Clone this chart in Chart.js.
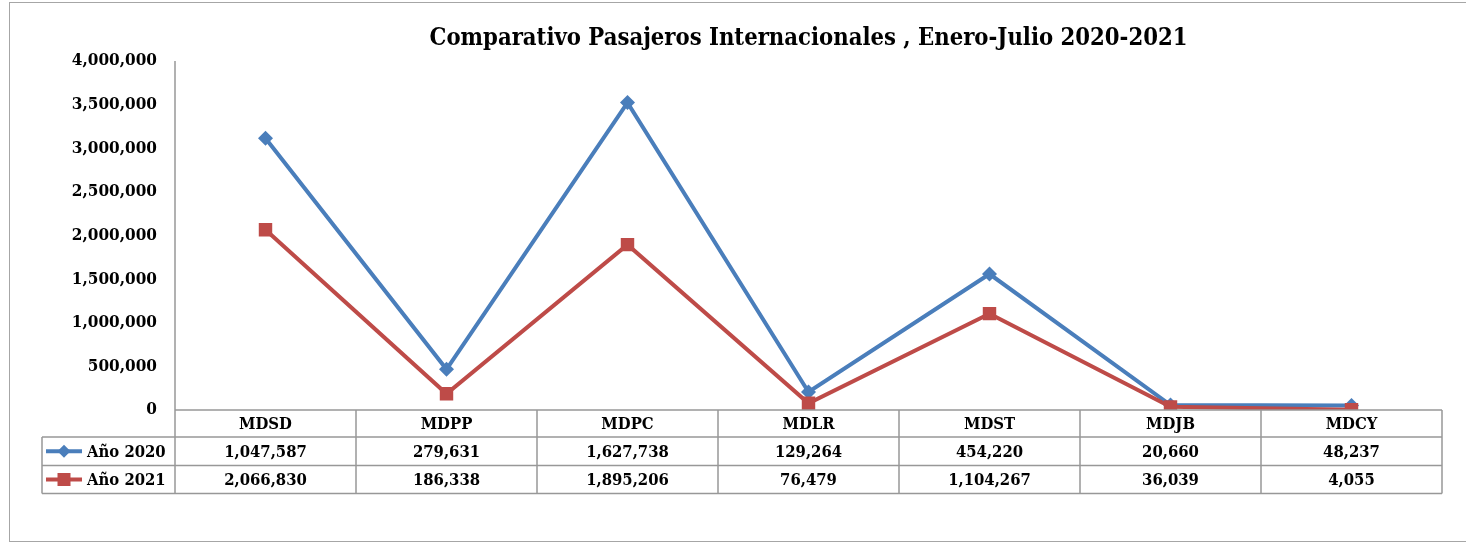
<!DOCTYPE html>
<html>
<head>
<meta charset="utf-8">
<script src="https://cdn.jsdelivr.net/npm/chart.js@4/dist/chart.umd.min.js"></script>
<style>
  html, body { margin: 0; padding: 0; background: #fff; }
  #wrap { width: 1466px; height: 543px; }
</style>
</head>
<body>
<div id="wrap"><canvas id="chart" width="1466" height="543"></canvas></div>
<script>
// datos de la tabla
const airports = ["MDSD", "MDPP", "MDPC", "MDLR", "MDST", "MDJB", "MDCY"]
const seriesNames = ["Año 2020", "Año 2021"]
const pax2020 = [1047587, 279631, 1627738, 129264, 454220, 20660, 48237]
const pax2021 = [2066830, 186338, 1895206, 76479, 1104267, 36039, 4055]
const yTicks = [0, 500000, 1000000, 1500000, 2000000, 2500000, 3000000, 3500000, 4000000]
const chartTitle = "Comparativo Pasajeros Internacionales , Enero-Julio 2020-2021"

const BLUE = "#4a7ebb"
const RED = "#be4b48"
const GRID = "#989898"
const FONT = "'DejaVu Serif Condensed', 'DejaVu Serif', serif"

const fmt = v => v.toLocaleString("en-US")

// la tabla de datos abajo del grafico, como en Excel
const tablePlugin = {
    id: "dataTable",
    beforeDraw(chart){
        const ctx = chart.ctx
        ctx.save()
        ctx.fillStyle = "#fff"
        ctx.fillRect(0, 0, chart.width, chart.height)
        ctx.strokeStyle = "#a6a6a6"
        ctx.lineWidth = 1
        ctx.strokeRect(9.5, 2.5, chart.width, 539)
        ctx.fillStyle = "#000"
        ctx.font = `bold 23.6px ${FONT}`
        ctx.textAlign = "center"
        ctx.textBaseline = "middle"
        const area = chart.chartArea
        ctx.fillText(chartTitle, (area.left + area.right) / 2, 39)
        ctx.restore()
    },
    afterDraw(chart){
        const ctx = chart.ctx
        const x = chart.scales.x
        const area = chart.chartArea
        const rows = [area.bottom, 437, 465.5, 493.5]
        const legendLeft = 42
        const half = (x.getPixelForValue(1) - x.getPixelForValue(0)) / 2
        ctx.save()
        ctx.strokeStyle = GRID
        ctx.lineWidth = 1.5
        // lineas horizontales
        ctx.beginPath()
        ctx.moveTo(area.left, rows[0]); ctx.lineTo(area.right, rows[0])
        for(let r = 1; r < rows.length; r++){
            ctx.moveTo(legendLeft, rows[r]); ctx.lineTo(area.right, rows[r])
        }
        // lineas verticales
        ctx.moveTo(legendLeft, rows[1]); ctx.lineTo(legendLeft, rows[3])
        ctx.moveTo(area.left, area.top); ctx.lineTo(area.left, rows[3])
        for(let i = 0; i < airports.length; i++){
            const right = x.getPixelForValue(i) + half
            ctx.moveTo(right, rows[0]); ctx.lineTo(right, rows[3])
        }
        ctx.stroke()

        ctx.fillStyle = "#000"
        ctx.font = `bold 16.5px ${FONT}`
        ctx.textAlign = "center"
        ctx.textBaseline = "middle"
        const series = [pax2020, pax2021]
        for(let i = 0; i < airports.length; i++){
            const cx = x.getPixelForValue(i)
            ctx.fillText(airports[i], cx, (rows[0] + rows[1]) / 2 + 1)
            for(let s = 0; s < series.length; s++){
                ctx.fillText(fmt(series[s][i]), cx, (rows[s + 1] + rows[s + 2]) / 2 + 1)
            }
        }
        // claves de leyenda
        const colors = [BLUE, RED]
        const shapes = ["diamond", "square"]
        for(let s = 0; s < seriesNames.length; s++){
            const cy = (rows[s + 1] + rows[s + 2]) / 2
            ctx.strokeStyle = colors[s]
            ctx.fillStyle = colors[s]
            ctx.lineWidth = 4
            ctx.beginPath()
            ctx.moveTo(46, cy); ctx.lineTo(82, cy)
            ctx.stroke()
            ctx.beginPath()
            if(shapes[s] == "diamond"){
                ctx.moveTo(64, cy - 6.5); ctx.lineTo(70.5, cy); ctx.lineTo(64, cy + 6.5); ctx.lineTo(57.5, cy)
                ctx.closePath()
            } else {
                ctx.rect(57.5, cy - 6.5, 13, 13)
            }
            ctx.fill()
            ctx.fillStyle = "#000"
            ctx.textAlign = "left"
            ctx.fillText(seriesNames[s], 87, cy + 1)
        }
        ctx.restore()
    }
}

// la linea 2021 va primero para que la 2020 se apile encima
const chart = new Chart(document.getElementById("chart"), {
    type: "line",
    data: {
        labels: airports,
        datasets: [
            {
                label: seriesNames[1],
                data: pax2021,
                borderColor: RED,
                backgroundColor: RED,
                borderWidth: 4,
                pointStyle: "rect",
                pointRadius: 9.5,
                pointHoverRadius: 9.5,
                pointBorderWidth: 0,
                tension: 0
            },
            {
                label: seriesNames[0],
                data: pax2020,
                borderColor: BLUE,
                backgroundColor: BLUE,
                borderWidth: 4,
                pointStyle: "rectRot",
                pointRadius: 7.5,
                pointHoverRadius: 7.5,
                pointBorderWidth: 0,
                tension: 0
            }
        ]
    },
    options: {
        responsive: false,
        animation: false,
        layout: { padding: { top: 61, right: 24, bottom: 133, left: 0 } },
        plugins: {
            legend: { display: false },
            title: { display: false },
            tooltip: { enabled: false }
        },
        scales: {
            x: {
                type: "category",
                offset: true,
                display: false
            },
            y: {
                stacked: true,
                min: 0,
                max: 4000000,
                afterFit(scale){ scale.width = 175 },
                afterBuildTicks(scale){ scale.ticks = yTicks.map(v => ({ value: v })) },
                grid: { display: false, drawTicks: false },
                border: { display: false },
                ticks: {
                    padding: 18,
                    color: "#000",
                    font: { family: FONT, size: 17, weight: "bold" },
                    callback: v => fmt(v)
                }
            }
        }
    },
    plugins: [tablePlugin]
})
</script>
</body>
</html>
